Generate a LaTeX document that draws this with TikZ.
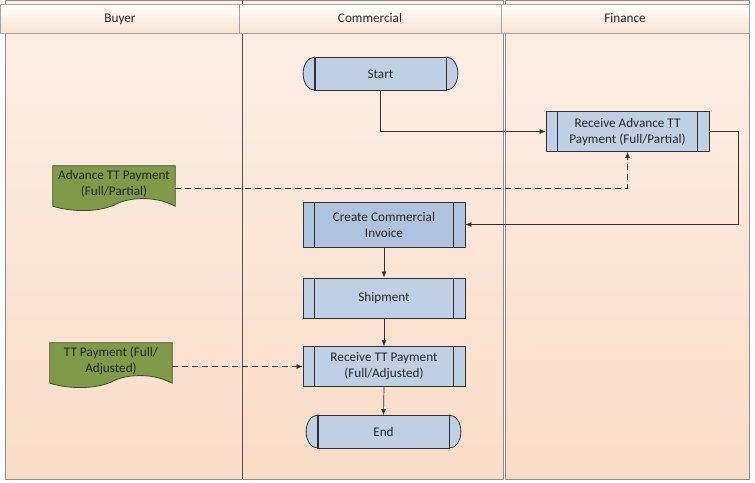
\documentclass[tikz,border=0pt]{standalone}
\usepackage{fontspec}
\setmainfont{Carlito}
\usetikzlibrary{arrows.meta,calc}
\definecolor{procfill}{HTML}{C0D0E4}
\definecolor{procdark}{HTML}{AFC3DE}
\definecolor{docfill}{HTML}{7F9B4A}
\definecolor{docline}{HTML}{3E4D24}
\definecolor{edge}{HTML}{303030}
\definecolor{lanetop}{HTML}{FCEFE6}
\definecolor{lanebot}{HTML}{F9DCC8}
\definecolor{lanebord}{HTML}{8C8C8C}
\definecolor{lanesep}{HTML}{5A5050}
\definecolor{headbot}{HTML}{F8E2D2}
\definecolor{txt}{HTML}{262626}
\begin{document}
\begin{tikzpicture}[x=1pt,y=-1pt,
  font=\fontsize{13.2}{16}\selectfont, text=txt,
  lane/.style={draw=lanebord, line width=0.8pt, top color=lanetop, bottom color=lanebot},
  head/.style={draw=lanebord!80, line width=0.6pt, top color=white, bottom color=headbot},
  headtext/.style={inner sep=0pt, anchor=base},
  proc/.style={draw=edge, line width=0.8pt, fill=procfill, minimum width=162pt,
    minimum height=40pt, align=center, inner sep=0pt,
    path picture={\draw[edge,line width=0.8pt]
      ([xshift=11.5pt]path picture bounding box.north west) -- ([xshift=11.5pt]path picture bounding box.south west)
      ([xshift=-11.5pt]path picture bounding box.north east) -- ([xshift=-11.5pt]path picture bounding box.south east);}},
  term/.style={draw=edge, line width=0.8pt, fill=procfill, minimum width=131pt,
    minimum height=33pt, inner sep=0pt},
  termcap/.style={draw=edge, line width=0.8pt, fill=procfill},
  termline/.style={draw=edge, line width=0.9pt},
  doc/.style={minimum width=122pt, minimum height=36pt, inner sep=0pt, align=center, text=black!85},
  docshape/.style={draw=docline, line width=0.8pt, fill=docfill},
  flow/.style={draw=edge, line width=0.7pt, -{Latex[length=6pt,width=5pt]}},
  msg/.style={flow, dash pattern=on 6pt off 4pt},
]
\useasboundingbox (0,0) rectangle (755,482);
% lanes
\path[lane] (5,0) rectangle (242,479);
\path[lane] (242,0) rectangle (503,479);
\path[lane] (505,0) rectangle (749,479);
\draw[lanesep, line width=0.8pt] (242,0) -- (242,479);
% headers
\path[head] (0,4) rectangle (239,33);
\path[head] (239,4) rectangle (501,33);
\path[head] (501,4) rectangle (749,33);
\node[headtext] (hb) at (120,22.5) {Buyer};
\node[headtext] (hc) at (370,22.5) {Commercial};
\node[headtext] (hf) at (625,22.5) {Finance};

% terminators
\node[term] (start) at (380.5,74) {Start};
\draw[termcap] (start.north west) arc[start angle=90, end angle=270, x radius=11.5pt, y radius=16.5pt] -- cycle;
\draw[termcap] (start.north east) arc[start angle=90, end angle=-90, x radius=11.5pt, y radius=16.5pt] -- cycle;
\draw[termline] (start.north west) rectangle (start.south east);
\node[term] (end) at (383.5,432) {End};
\draw[termcap] (end.north west) arc[start angle=90, end angle=270, x radius=11.5pt, y radius=16.5pt] -- cycle;
\draw[termcap] (end.north east) arc[start angle=90, end angle=-90, x radius=11.5pt, y radius=16.5pt] -- cycle;
\draw[termline] (end.north west) rectangle (end.south east);

% processes
\node[proc, minimum width=163pt] (ra) at (627.5,131.5) {Receive Advance TT\\Payment (Full/Partial)};
\node[proc, fill=procdark, minimum height=45pt] (ci) at (384,224.5) {Create Commercial\\Invoice};
\node[proc] (ship) at (384,298) {Shipment};
\node[proc] (rt) at (384,366.5) {Receive TT Payment\\(Full/Adjusted)};

% documents
\node[doc] (d1) at (114,184) {};
\draw[docshape] (d1.south west) -- (d1.north west) -- (d1.north east) -- ([yshift=-4pt]d1.south east)
  .. controls ([xshift=-20pt,yshift=7pt]d1.south east) and ([xshift=-48pt,yshift=5pt]d1.south east) .. ([yshift=-3pt]d1.south)
  .. controls ([xshift=-20pt,yshift=-11pt]d1.south) and ([xshift=-45pt,yshift=-9pt]d1.south) .. ([yshift=-4pt]d1.south west) -- cycle;
\node[doc] at (d1) {Advance TT Payment\\(Full/Partial)};
\node[doc] (d2) at (111,361) {};
\draw[docshape] (d2.south west) -- (d2.north west) -- (d2.north east) -- ([yshift=-4pt]d2.south east)
  .. controls ([xshift=-20pt,yshift=7pt]d2.south east) and ([xshift=-48pt,yshift=5pt]d2.south east) .. ([yshift=-3pt]d2.south)
  .. controls ([xshift=-20pt,yshift=-11pt]d2.south) and ([xshift=-45pt,yshift=-9pt]d2.south) .. ([yshift=-4pt]d2.south west) -- cycle;
\node[doc] at (d2) {TT Payment (Full/\\Adjusted)};

% connectors
\draw[flow] (start.south) |- (ra.west);
\draw[flow] (ra.east) -- ++(29,0) |- (ci.east);
\draw[msg] ([yshift=-4pt]d1.east) -| (ra.south);
\draw[flow] (ci.south) -- (ship.north);
\draw[flow] (ship.south) -- (rt.north);
\draw[msg] (d2.east |- rt.west) -- (rt.west);
\draw[flow] (rt.south) -- (end.north);
\end{tikzpicture}
\end{document}
